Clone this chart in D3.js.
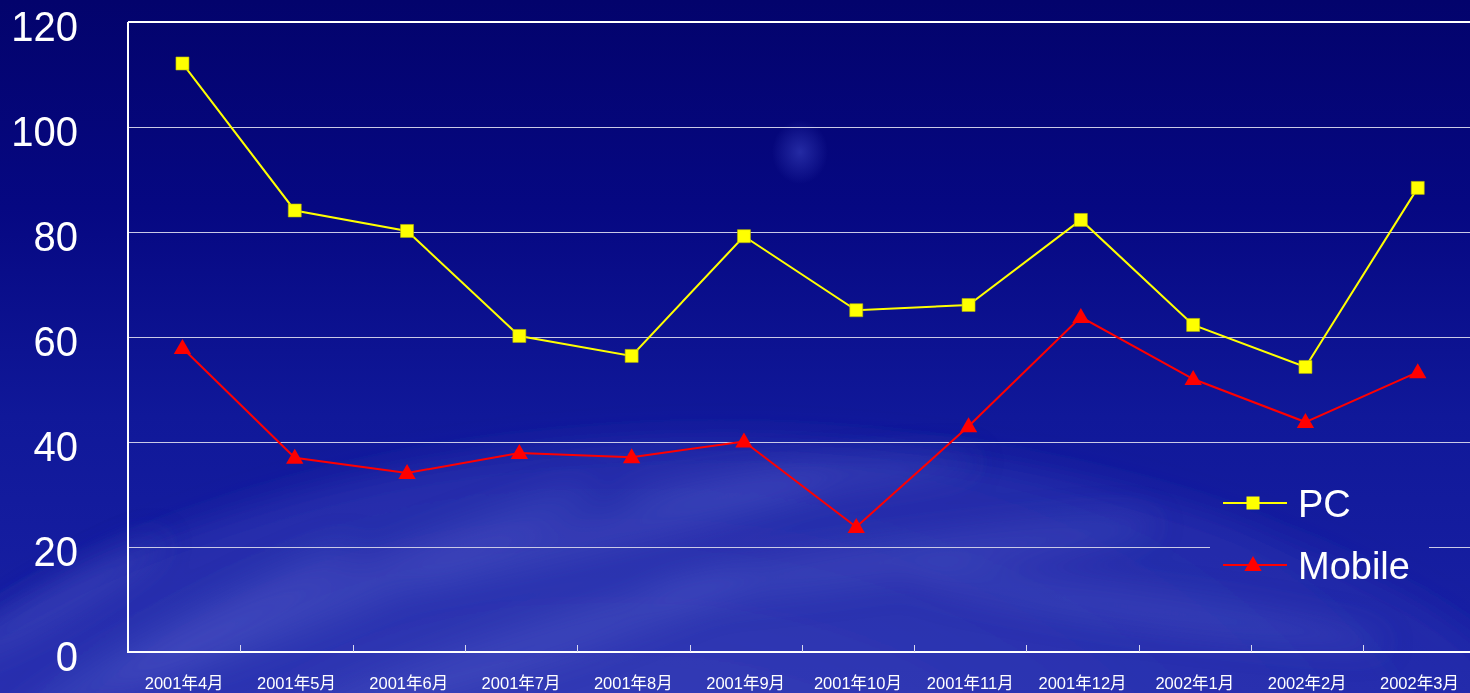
<!DOCTYPE html>
<html>
<head>
<meta charset="utf-8">
<script src="https://cdn.jsdelivr.net/npm/d3@7"></script>
<style>
html,body{margin:0;padding:0;background:#06067a;overflow:hidden;}
svg{display:block;}
</style>
</head>
<body>
<svg id="chart" width="1470" height="693"></svg>
<script>
const categories = ["2001年4月","2001年5月","2001年6月","2001年7月","2001年8月","2001年9月","2001年10月","2001年11月","2001年12月","2002年1月","2002年2月","2002年3月"];
const pcValues = [112.1, 84.1, 80.2, 60.2, 56.4, 79.2, 65.1, 66.1, 82.3, 62.3, 54.3, 88.4];
const mobileValues = [57.9, 37.0, 34.1, 37.9, 37.1, 40.1, 23.8, 43.0, 63.8, 52.0, 43.8, 53.3];
const yTicks = [0, 20, 40, 60, 80, 100, 120];
const seriesNames = ["PC", "Mobile"];

(function(){
const W = 1470, H = 693;
const svg = d3.select("#chart");
const defs = svg.append("defs");

// background
const bg = defs.append("linearGradient").attr("id","bg").attr("x1",0).attr("y1",0).attr("x2",0).attr("y2",1);
[[0,"#03036c"],[0.3,"#060882"],[0.6,"#101899"],[1,"#1a22a6"]].forEach(([o,c])=>bg.append("stop").attr("offset",o).attr("stop-color",c));
svg.append("rect").attr("width",W).attr("height",H).attr("fill","url(#bg)");

const earth = defs.append("radialGradient").attr("id","earth").attr("cx","0.45").attr("cy","0.35").attr("r","0.65");
[[0,"#4a52c4",0.7],[0.6,"#3139b5",0.5],[1,"#1a22a6",0]].forEach(([o,c,op])=>earth.append("stop").attr("offset",o).attr("stop-color",c).attr("stop-opacity",op));
const blur = defs.append("filter").attr("id","blur").attr("x","-50%").attr("y","-50%").attr("width","200%").attr("height","200%");
blur.append("feGaussianBlur").attr("stdDeviation",16);
svg.append("ellipse").attr("cx",720).attr("cy",1080).attr("rx",1050).attr("ry",640)
  .attr("fill","url(#earth)").attr("filter","url(#blur)");
// cloud streaks
const streaks = [[350,590,260,22,-22],[620,530,220,16,-14],[900,560,260,18,-8],[180,640,200,20,-28],[1150,610,240,16,8],[520,650,240,20,-18],[800,480,180,12,-6],[60,600,120,14,-30]];
svg.append("g").attr("filter","url(#blur)").selectAll("ellipse").data(streaks).join("ellipse")
  .attr("cx",d=>d[0]).attr("cy",d=>d[1]).attr("rx",d=>d[2]).attr("ry",d=>d[3])
  .attr("transform",d=>`rotate(${d[4]},${d[0]},${d[1]})`)
  .attr("fill","#5a62cc").attr("opacity",0.3);
const glow = defs.append("radialGradient").attr("id","glow");
glow.append("stop").attr("offset",0).attr("stop-color","#2c33ad").attr("stop-opacity",0.8);
glow.append("stop").attr("offset",1).attr("stop-color","#2c33ad").attr("stop-opacity",0);
svg.append("ellipse").attr("cx",800).attr("cy",152).attr("rx",28).attr("ry",32).attr("fill","url(#glow)");

const left = 128, bottom = 652, topY = 22;
const step = 112.3;
const x = d3.scaleBand().domain(categories).range([left, left + step*categories.length]).paddingInner(0).paddingOuter(0);
const y = d3.scaleLinear().domain([0,120]).range([bottom, topY]);

const mask = defs.append("mask").attr("id","gridmask");
mask.append("rect").attr("width",W).attr("height",H).attr("fill","white");
mask.append("rect").attr("x",1210).attr("y",475).attr("width",219).attr("height",110).attr("fill","black");

const grid = svg.append("g").attr("mask","url(#gridmask)");
grid.selectAll("line").data(yTicks.filter(t=>t>0 && t<120)).join("line")
  .attr("x1",left).attr("x2",W).attr("y1",d=>Math.round(y(d))+0.5).attr("y2",d=>Math.round(y(d))+0.5)
  .attr("stroke","#c9c9e6").attr("stroke-width",1);
svg.append("line").attr("x1",left).attr("x2",W).attr("y1",y(120)).attr("y2",y(120)).attr("stroke","#ffffff").attr("stroke-width",2);

const yAxis = svg.append("g").attr("transform",`translate(${left},0)`)
  .call(d3.axisLeft(y).tickValues(yTicks).tickSize(0).tickPadding(50));
yAxis.select(".domain").attr("stroke","#ffffff").attr("stroke-width",2).attr("d",`M0,${topY}V${bottom+1}`);
yAxis.selectAll("text").attr("fill","#ffffff").attr("font-family","'Liberation Sans', Arial, sans-serif")
  .attr("font-size",40).attr("dy","0.36em").attr("x",-50).attr("transform","translate(0,3) scale(1,1.05)");

const xAxis = svg.append("g").attr("transform",`translate(0,${bottom})`)
  .call(d3.axisBottom(x).tickSize(0).tickPadding(34));
xAxis.select(".domain").attr("stroke","#ffffff").attr("stroke-width",2).attr("d",`M${left-1},0H${W}`);
xAxis.selectAll("text").attr("fill","#ffffff").attr("font-family","'Liberation Sans','Noto Sans CJK SC', sans-serif")
  .attr("font-size",16.5).attr("dy","0.2em");
svg.append("g").selectAll("line").data(categories.slice(1)).join("line")
  .attr("x1",d=>Math.round(x(d))+0.5).attr("x2",d=>Math.round(x(d))+0.5)
  .attr("y1",bottom).attr("y2",bottom-7).attr("stroke","#d8d8f0").attr("stroke-width",1);

const cx = d => x(d) + x.bandwidth()/2 - 1.7;
const line = d3.line().x(d=>cx(d.c)).y(d=>y(d.v));
const pcData = categories.map((c,i)=>({c, v:pcValues[i]}));
const mobData = categories.map((c,i)=>({c, v:mobileValues[i]}));

svg.append("path").datum(pcData).attr("d",line).attr("fill","none").attr("stroke","#ffff00").attr("stroke-width",2);
svg.append("path").datum(mobData).attr("d",line).attr("fill","none").attr("stroke","#ff0000").attr("stroke-width",2);

const sq = d3.symbol().type(d3.symbolSquare).size(169);
const tri = d3.symbol().type(d3.symbolTriangle).size(130);
svg.append("g").selectAll("path").data(pcData).join("path")
  .attr("d",sq).attr("transform",d=>`translate(${cx(d.c)},${y(d.v)})`)
  .attr("fill","#ffff00").attr("stroke","#b8b800").attr("stroke-width",0.6);
svg.append("g").selectAll("path").data(mobData).join("path")
  .attr("d",tri).attr("transform",d=>`translate(${cx(d.c)},${y(d.v)+1})`)
  .attr("fill","#ff0000");

const legend = svg.append("g");
const legItems = [{name:seriesNames[0], color:"#ffff00", sym:sq, y:503},{name:seriesNames[1], color:"#ff0000", sym:tri, y:565}];
legItems.forEach(it=>{
  legend.append("line").attr("x1",1223).attr("x2",1287).attr("y1",it.y).attr("y2",it.y).attr("stroke",it.color).attr("stroke-width",2);
  legend.append("path").attr("d",it.sym).attr("transform",`translate(1253,${it.y + (it.name==="Mobile"?1:0)})`).attr("fill",it.color);
  legend.append("text").attr("x",1298).attr("y",it.y).attr("dy","0.36em").text(it.name)
    .attr("fill","#ffffff").attr("font-family","'Liberation Sans', Arial, sans-serif").attr("font-size",38);
});
})();
</script>
</body>
</html>
